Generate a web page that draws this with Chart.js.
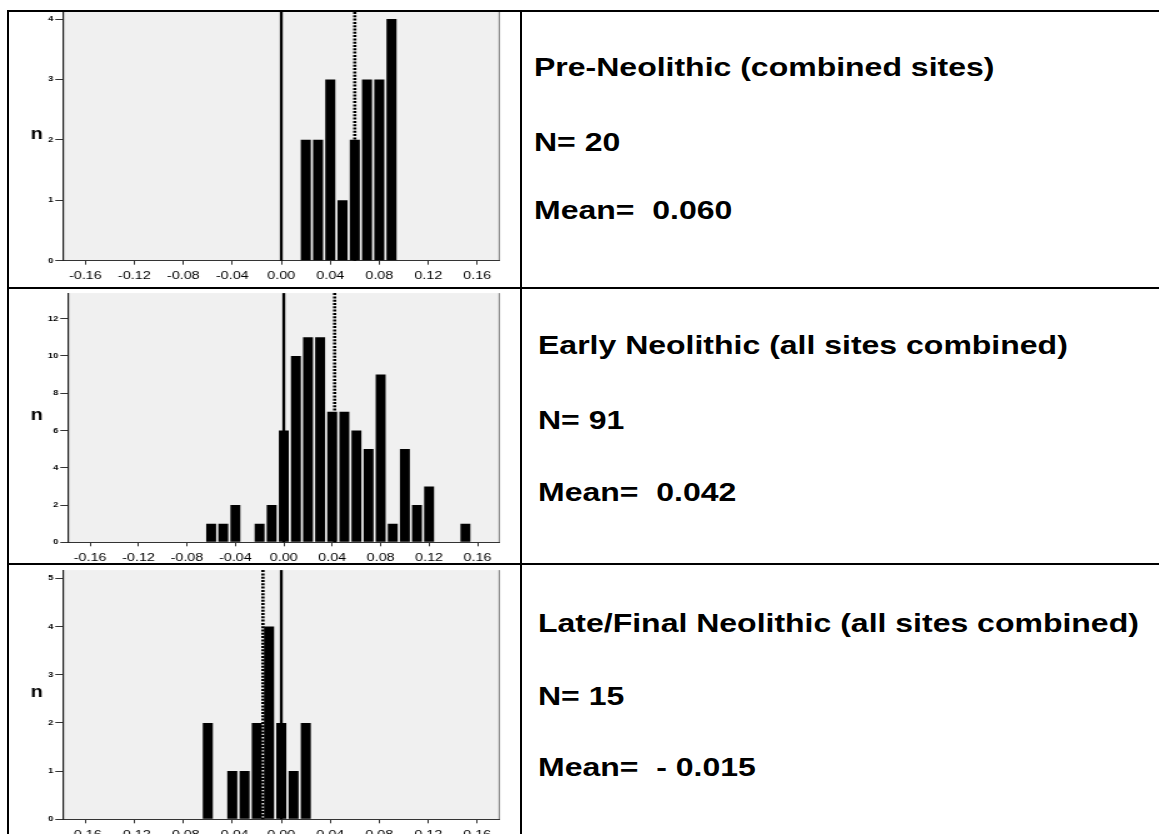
<!DOCTYPE html>
<html>
<head>
<meta charset="utf-8">
<script src="https://cdn.jsdelivr.net/npm/chart.js@4.4.1/dist/chart.umd.min.js"></script>
<style>
  html, body { margin: 0; padding: 0; background: #fff; }
  body { width: 1159px; height: 834px; overflow: hidden; position: relative; font-family: "Liberation Sans", Arial, sans-serif; }
  .plot { position: absolute; left: 0; transform-origin: 0 0; }
  .rule { position: absolute; background: #000; z-index: 5; }
  .txt { position: absolute; font-weight: bold; font-size: 25.6px; line-height: 1; white-space: pre;
         color: #000; transform: scaleX(1.25); transform-origin: 0 0; }
</style>
</head>
<body>
<!-- table rules -->
<div class="rule" style="left:6.7px;top:9.5px;width:1153px;height:2px"></div>
<div class="rule" style="left:6.7px;top:9.5px;width:2px;height:830px"></div>
<div class="rule" style="left:520px;top:9.5px;width:2px;height:830px"></div>
<div class="rule" style="left:6.7px;top:287px;width:1153px;height:2px"></div>
<div class="rule" style="left:6.7px;top:563.3px;width:1153px;height:2px"></div>

<div class="plot" id="p0"><canvas id="c0"></canvas></div>
<div class="plot" id="p1"><canvas id="c1"></canvas></div>
<div class="plot" id="p2"><canvas id="c2"></canvas></div>

<div id="labels"></div>

<script>
// Histogram bins (bin centres, width 0.01)
const binCenters = [-0.06, -0.05, -0.04, -0.03, -0.02, -0.01, 0.00, 0.01, 0.02, 0.03, 0.04,
                    0.05, 0.06, 0.07, 0.08, 0.09, 0.10, 0.11, 0.12, 0.13, 0.14, 0.15];

// Counts per bin for each period
const preNeolithicCounts      = [0, 0, 0, 0, 0, 0, 0, 0, 2, 2, 3, 1, 2, 3, 3, 4, 0, 0, 0, 0, 0, 0];
const earlyNeolithicCounts    = [1, 1, 2, 0, 1, 2, 6, 10, 11, 11, 7, 7, 6, 5, 9, 1, 5, 2, 3, 0, 0, 1];
const lateFinalNeolithicCounts = [2, 0, 1, 1, 2, 4, 2, 1, 2, 0, 0, 0, 0, 0, 0, 0, 0, 0, 0, 0, 0, 0];

// Period labels, sample sizes and means
const periodNames = ['Pre-Neolithic (combined sites)', 'Early Neolithic (all sites combined)',
                     'Late/Final Neolithic (all sites combined)'];
const sampleSizes = [20, 91, 15];
const periodMeans = [0.060, 0.042, -0.015];

// Axis ticks
const xTickValues = [-0.16, -0.12, -0.08, -0.04, 0.00, 0.04, 0.08, 0.12, 0.16];
const yTicksPre   = [0, 1, 2, 3, 4];
const yTicksEarly = [0, 2, 4, 6, 8, 10, 12];
const yTicksLate  = [0, 1, 2, 3, 4, 5];

const countsByPanel = [preNeolithicCounts, earlyNeolithicCounts, lateFinalNeolithicCounts];
const yTicksByPanel = [yTicksPre, yTicksEarly, yTicksLate];

// Horizontal stretch applied to the figure
const S = 1.25;
const CANVAS_W = 520;          // page px
const PLOT_RIGHT = 499.3;      // page px

const panelBoxes = [
  { top: 0,   height: 287, padTop: 12, axisH: 26.3, yAxisW: 63.3, yMax: 4.116 },
  { top: 287, height: 277, padTop: 2,  axisH: 21.7, yAxisW: 68.3, yMax: 13.37 },
  { top: 564, height: 290, padTop: 2,  axisH: 34.7, yAxisW: 63.3, yMax: 5.17 }
];

const FONT = '"Liberation Sans", Arial, sans-serif';

const framePlugin = {
  id: 'frame',
  beforeDraw(chart) {
    const { ctx, chartArea: a } = chart;
    ctx.save();
    ctx.fillStyle = '#f0f0f0';
    ctx.fillRect(a.left, a.top, a.right - a.left, a.bottom - a.top);
    ctx.strokeStyle = '#8a8a8a';
    ctx.lineWidth = 1.2;
    ctx.beginPath();
    ctx.moveTo(a.right, a.top);
    ctx.lineTo(a.right, a.bottom);
    ctx.stroke();
    ctx.restore();
  },
  beforeDatasetsDraw(chart, args, opts) {
    const { ctx, chartArea: a, scales } = chart;
    ctx.save();
    // reference line at zero
    const x0 = scales.x.getPixelForValue(0);
    ctx.strokeStyle = '#000';
    ctx.lineWidth = 2.3;
    ctx.beginPath();
    ctx.moveTo(x0, a.top);
    ctx.lineTo(x0, a.bottom);
    ctx.stroke();
    // mean line (dotted)
    const xm = scales.x.getPixelForValue(opts.mean);
    ctx.lineWidth = 2.6;
    ctx.setLineDash([2, 1.3]);
    ctx.beginPath();
    ctx.moveTo(xm, a.top);
    ctx.lineTo(xm, a.bottom);
    ctx.stroke();
    ctx.restore();
  },
  afterDraw(chart) {
    const { ctx, chartArea: a } = chart;
    ctx.save();
    ctx.fillStyle = '#000';
    ctx.font = 'bold 16px ' + FONT;
    ctx.textAlign = 'center';
    ctx.textBaseline = 'middle';
    ctx.fillText('n', 36.7 / S, (a.top + a.bottom) / 2 - 2);
    ctx.restore();
  }
};

panelBoxes.forEach((box, i) => {
  const holder = document.getElementById('p' + i);
  holder.style.top = box.top + 'px';
  holder.style.width = (CANVAS_W / S) + 'px';
  holder.style.height = box.height + 'px';
  holder.style.transform = 'scaleX(' + S + ')';

  const counts = countsByPanel[i];
  const yTicks = yTicksByPanel[i];

  new Chart(document.getElementById('c' + i), {
    type: 'bar',
    data: {
      datasets: [{
        data: binCenters.map((x, k) => ({ x: x, y: counts[k] })),
        backgroundColor: '#000',
        borderWidth: 0,
        barPercentage: 0.82,
        categoryPercentage: 1
      }]
    },
    options: {
      responsive: true,
      maintainAspectRatio: false,
      animation: false,
      events: [],
      layout: { padding: { top: box.padTop, right: (CANVAS_W - PLOT_RIGHT) / S, left: 0, bottom: 0 } },
      plugins: {
        legend: { display: false },
        tooltip: { enabled: false },
        frame: { mean: periodMeans[i] }
      },
      scales: {
        x: {
          type: 'linear',
          min: -0.178,
          max: 0.178,
          offset: false,
          grid: { display: true, offset: false, drawOnChartArea: false, drawTicks: true,
                  tickLength: 4, tickColor: '#333', lineWidth: 1 },
          border: { display: true, color: '#333', width: 1 },
          ticks: {
            autoSkip: false, maxRotation: 0, minRotation: 0, padding: 4.5,
            color: '#000', font: { family: FONT, size: 11.5 },
            callback: v => Number(v).toFixed(2)
          },
          afterBuildTicks: s => { s.ticks = xTickValues.map(v => ({ value: v })); },
          afterFit: s => { s.height = box.axisH; }
        },
        y: {
          min: 0,
          max: box.yMax,
          grid: { display: true, drawOnChartArea: false, drawTicks: true,
                  tickLength: 8 / S, tickColor: '#333', lineWidth: 1 },
          border: { display: true, color: '#222', width: 1.2 },
          ticks: {
            autoSkip: false, padding: 1.6, color: '#000',
            font: { family: FONT, size: 7.5, weight: 'bold' },
            callback: v => String(v)
          },
          afterBuildTicks: s => { s.ticks = yTicks.map(v => ({ value: v })); },
          afterFit: s => { s.width = box.yAxisW / S; }
        }
      }
    },
    plugins: [framePlugin]
  });
});

// Text column: period name, sample size and mean for each row
const fmtMean = m => (m < 0 ? '- ' : '') + Math.abs(m).toFixed(3);
const textRows = [
  { left: 534.4, tops: [55.0, 130.0, 198.3] },
  { left: 538.4, tops: [333.3, 408.3, 480.0] },
  { left: 538.4, tops: [610.6, 684.0, 755.0] }
];
const labels = document.getElementById('labels');
textRows.forEach((row, i) => {
  const lines = [periodNames[i], 'N= ' + sampleSizes[i], 'Mean=  ' + fmtMean(periodMeans[i])];
  lines.forEach((t, j) => {
    const d = document.createElement('div');
    d.className = 'txt';
    d.style.left = row.left + 'px';
    d.style.top = row.tops[j] + 'px';
    d.textContent = t;
    labels.appendChild(d);
  });
});
</script>
</body>
</html>
